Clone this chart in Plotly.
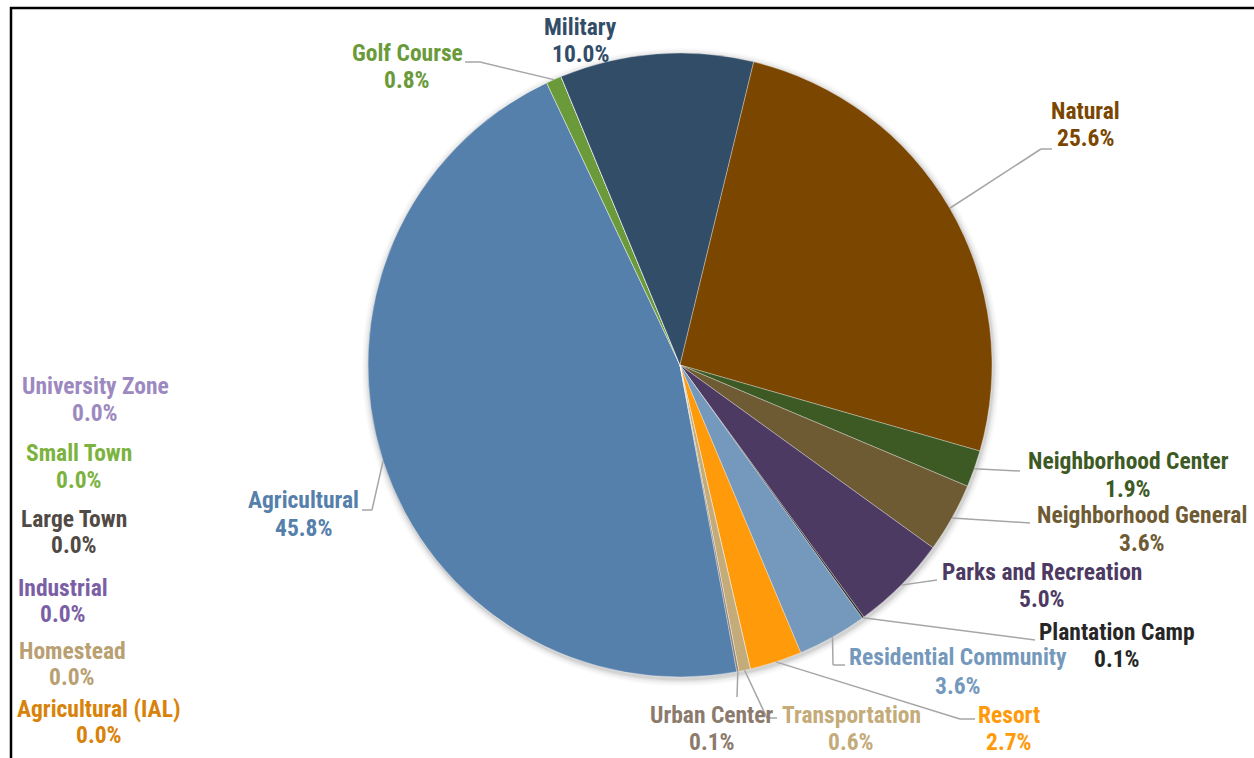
import math
import plotly.graph_objects as go

# ---------------- data ----------------
categories = ["Agricultural", "Agricultural (IAL)", "Golf Course", "Homestead", "Industrial",
              "Large Town", "Military", "Natural", "Neighborhood Center", "Neighborhood General",
              "Parks and Recreation", "Plantation Camp", "Residential Community", "Resort",
              "Small Town", "Transportation", "University Zone", "Urban Center"]
shares = [45.8, 0.0, 0.8, 0.0, 0.0,
          0.0, 10.0, 25.6, 1.9, 3.6,
          5.0, 0.1, 3.6, 2.7,
          0.0, 0.6, 0.0, 0.1]

# ---------------- style ----------------
W, H = 1254, 758
CX, CY, R = 680, 365, 312
ROT = 169.5
FONT = "Roboto Condensed, Liberation Sans Narrow, Arial Narrow, Roboto, sans-serif"
FS = 23.5

slice_colors = {
    "Agricultural": "#5580AB", "Agricultural (IAL)": "#D9820A", "Golf Course": "#6A9A3A",
    "Homestead": "#B8A073", "Industrial": "#7B5FA6", "Large Town": "#514A44",
    "Military": "#324D68", "Natural": "#7A4600", "Neighborhood Center": "#3D5A24",
    "Neighborhood General": "#6E5B33", "Parks and Recreation": "#4D3A63",
    "Plantation Camp": "#2E2A26", "Residential Community": "#7599BC", "Resort": "#FF9A0A",
    "Small Town": "#7CB340", "Transportation": "#C4AB7A", "University Zone": "#9C89C0",
    "Urban Center": "#8C7B6D",
}
text_colors = dict(slice_colors)
text_colors["Plantation Camp"] = "#262626"

# label line-centres: (x, y of name line, y of percent line) in pixels
label_pos = {
    "Agricultural": (303, 500, 528),
    "Agricultural (IAL)": (99, 709, 735),
    "Golf Course": (407, 53, 80),
    "Homestead": (72, 651, 677),
    "Industrial": (63, 588, 614),
    "Large Town": (74, 519, 545),
    "Military": (580, 27, 54),
    "Natural": (1085, 111, 138),
    "Neighborhood Center": (1128, 461, 489),
    "Neighborhood General": (1142, 515, 543),
    "Parks and Recreation": (1042, 572, 599),
    "Plantation Camp": (1117, 632, 659),
    "Residential Community": (958, 657, 686),
    "Resort": (1009, 715, 742),
    "Small Town": (79, 453, 480),
    "Transportation": (851, 715, 742),
    "University Zone": (95, 386, 413),
    "Urban Center": (712, 715, 742),
}
# leader-line bend points (pixels), line starts at the slice's outer mid-point
leader_pts = {
    "Golf Course": [(480, 62), (465, 62)],
    "Natural": [(1041, 149), (1052, 149)],
    "Neighborhood Center": [(1020, 471)],
    "Neighborhood General": [(1030, 523)],
    "Parks and Recreation": [(937, 580)],
    "Plantation Camp": [(1035, 640)],
    "Residential Community": [(833, 665), (845, 665)],
    "Resort": [(960, 719), (975, 719)],
    "Transportation": [(767, 718), (777, 718)],
    "Urban Center": [(737, 697)],
    "Agricultural": [(372, 510), (362, 510)],
}


def px(x):
    return x / W


def py(y):
    return 1 - y / H


fig = go.Figure()
fig.add_trace(go.Pie(
    labels=categories, values=shares, sort=False, direction="clockwise", rotation=ROT,
    textinfo="none", hoverinfo="label+percent", showlegend=False,
    marker=dict(colors=[slice_colors[c] for c in categories],
                line=dict(color="rgba(255,255,255,0.55)", width=0.6)),
    domain=dict(x=[px(CX - R), px(CX + R)], y=[py(CY + R), py(CY - R)]),
))

shapes = []
# soft shadow around the pie
for k, op in [(7, 0.025), (5, 0.035), (3, 0.05), (1.5, 0.07)]:
    shapes.append(dict(type="circle", xref="paper", yref="paper", layer="below",
                       x0=px(CX + 1 - R - k), x1=px(CX + 1 + R + k),
                       y0=py(CY + 2 + R + k), y1=py(CY + 2 - R - k),
                       fillcolor=f"rgba(0,0,0,{op})", line=dict(width=0)))

total = sum(shares)
cum = 0.0
mid_pt = {}
for c, v in zip(categories, shares):
    a = math.radians(ROT + (cum + v / 2) / total * 360)
    mid_pt[c] = (CX + R * math.sin(a), CY - R * math.cos(a))
    cum += v

for c, pts in leader_pts.items():
    seq = [mid_pt[c]] + pts
    for (x0, y0), (x1, y1) in zip(seq[:-1], seq[1:]):
        shapes.append(dict(type="line", xref="paper", yref="paper",
                           x0=px(x0), y0=py(y0), x1=px(x1), y1=py(y1),
                           line=dict(color="#A6A6A6", width=1.5)))

# frame
shapes.append(dict(type="rect", xref="paper", yref="paper",
                   x0=px(11), y0=py(8), x1=1.02, y1=-0.02,
                   line=dict(color="black", width=2.5), fillcolor="rgba(0,0,0,0)"))

annotations = []
for c, v in zip(categories, shares):
    x, yn, yp = label_pos[c]
    for txt, yy in [(c, yn), (f"{v:.1f}%", yp)]:
        annotations.append(dict(text=txt, x=px(x), y=py(yy), xref="paper", yref="paper",
                                xanchor="center", yanchor="middle", showarrow=False,
                                font=dict(family=FONT, size=FS, color=text_colors[c],
                                          weight=700)))

fig.update_layout(
    width=W, height=H, margin=dict(l=0, r=0, t=0, b=0),
    paper_bgcolor="white", plot_bgcolor="white",
    shapes=shapes, annotations=annotations,
)
fig.write_html("out.html", config={"displayModeBar": False},
               post_script="document.body.style.margin='0';document.body.style.overflow='hidden';")
